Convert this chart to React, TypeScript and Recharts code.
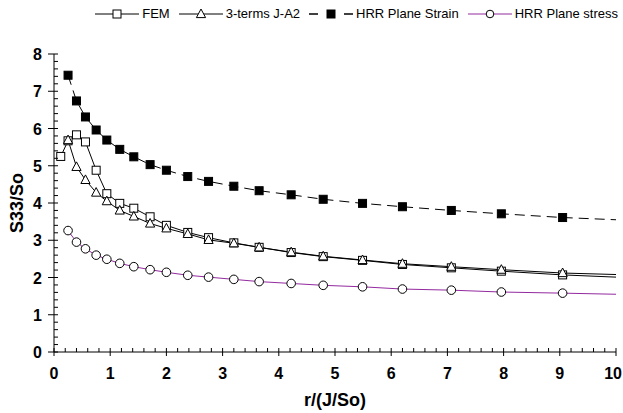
import React from 'react';
import { LineChart, Line, XAxis, YAxis, Label } from 'recharts';

// ---- Data ----
const X_VALUES = [0.25, 0.4, 0.56, 0.75, 0.94, 1.17, 1.42, 1.71, 2.0, 2.38, 2.75, 3.2, 3.65, 4.22, 4.79, 5.49, 6.2, 7.07, 7.96, 9.05];
const X_END = 10;
const FEM_FIRST_X = 0.12;
const FEM_FIRST_Y = 5.25;
const FEM_VALUES = [5.67, 5.83, 5.64, 4.88, 4.25, 3.99, 3.86, 3.63, 3.4, 3.21, 3.07, 2.93, 2.81, 2.67, 2.56, 2.46, 2.35, 2.26, 2.17, 2.07];
const FEM_END = 2.01;
const JA2_VALUES = [5.69, 4.97, 4.62, 4.28, 4.05, 3.8, 3.64, 3.45, 3.32, 3.17, 3.01, 2.92, 2.81, 2.68, 2.57, 2.47, 2.37, 2.29, 2.21, 2.12];
const JA2_END = 2.08;
const STRAIN_VALUES = [7.43, 6.74, 6.31, 5.96, 5.69, 5.44, 5.24, 5.03, 4.88, 4.71, 4.58, 4.45, 4.33, 4.22, 4.1, 3.99, 3.9, 3.8, 3.71, 3.61];
const STRAIN_END = 3.55;
const STRESS_VALUES = [3.26, 2.95, 2.77, 2.6, 2.49, 2.38, 2.29, 2.21, 2.14, 2.06, 2.01, 1.95, 1.89, 1.84, 1.79, 1.75, 1.69, 1.66, 1.61, 1.58];
const STRESS_END = 1.55;

const SERIES_NAMES = ['FEM', '3-terms J-A2', 'HRR Plane Strain', 'HRR Plane stress'];
const X_TICKS = Array.from({ length: 51 }, (_, i) => Math.round(i * 2) / 10);
const Y_TICKS = Array.from({ length: 41 }, (_, i) => Math.round(i * 2) / 10);
const X_TITLE = 'r/(J/So)';
const Y_TITLE = 'S33/So';

type Pt = { x: number; y: number; marker: boolean };
const build = (xs: number[], ys: number[], endY: number): Pt[] => [
  ...xs.map((x, i) => ({ x, y: ys[i], marker: true })),
  { x: X_END, y: endY, marker: false },
];

const femData = [{ x: FEM_FIRST_X, y: FEM_FIRST_Y, marker: true }, ...build(X_VALUES, FEM_VALUES, FEM_END)];
const ja2Data = build(X_VALUES, JA2_VALUES, JA2_END);
const strainData = build(X_VALUES, STRAIN_VALUES, STRAIN_END);
const stressData = build(X_VALUES, STRESS_VALUES, STRESS_END);

const PURPLE = '#932a9f';
const FONT = '"Liberation Sans", Arial, Helvetica, sans-serif';

const isMajor = (v: number) => Math.abs(v - Math.round(v)) < 1e-6;

const XTick = (props: any) => {
  const { x, y, payload } = props;
  const v = payload.value;
  const major = isMajor(v);
  const last = Math.abs(v - X_END) < 1e-6;
  return (
    <g>
      <line x1={x} x2={x} y1={y - 4} y2={major ? y + 4 : y} stroke="#000" strokeWidth={1} />
      {major && (
        <text
          x={last ? x + 6 : x}
          y={y + 27}
          textAnchor={last ? 'end' : 'middle'}
          fontFamily={FONT}
          fontWeight="bold"
          fontSize={16}
          fill="#000"
        >
          {Math.round(v)}
        </text>
      )}
    </g>
  );
};

const YTick = (props: any) => {
  const { x, y, payload } = props;
  const v = payload.value;
  const major = isMajor(v);
  return (
    <g>
      <line x1={major ? x - 6 : x} x2={x + 4} y1={y} y2={y} stroke="#000" strokeWidth={1} />
      {major && (
        <text x={x - 12} y={y + 6} textAnchor="end" fontFamily={FONT} fontWeight="bold" fontSize={16} fill="#000">
          {Math.round(v)}
        </text>
      )}
    </g>
  );
};

const SquareDot = (filled: boolean) => (props: any) => {
  const { cx, cy, payload, index } = props;
  if (!payload || !payload.marker) return <g key={`s${index}`} />;
  return (
    <rect key={`s${index}`} x={cx - 4} y={cy - 4} width={8} height={8} fill={filled ? '#000' : '#fff'} stroke="#000" strokeWidth={1} />
  );
};

const TriangleDot = (props: any) => {
  const { cx, cy, payload, index } = props;
  if (!payload || !payload.marker) return <g key={`t${index}`} />;
  return (
    <polygon
      key={`t${index}`}
      points={`${cx},${cy - 5} ${cx - 4.6},${cy + 3.6} ${cx + 4.6},${cy + 3.6}`}
      fill="#fff"
      stroke="#000"
      strokeWidth={1}
    />
  );
};

const CircleDot = (props: any) => {
  const { cx, cy, payload, index } = props;
  if (!payload || !payload.marker) return <g key={`c${index}`} />;
  return <circle key={`c${index}`} cx={cx} cy={cy} r={4.3} fill="#fff" stroke="#000" strokeWidth={1} />;
};

const LegendIcon = ({ kind }: { kind: number }) => {
  const w = 44;
  const c = 22;
  return (
    <svg width={w} height={12} style={{ display: 'block' }}>
      {kind === 2 ? (
        <>
          <line x1={0} x2={9} y1={6} y2={6} stroke="#000" strokeWidth={1.5} />
          <line x1={35} x2={44} y1={6} y2={6} stroke="#000" strokeWidth={1.5} />
        </>
      ) : (
        <line x1={0} x2={w} y1={6} y2={6} stroke={kind === 3 ? PURPLE : '#000'} strokeWidth={1} />
      )}
      {kind === 0 && <rect x={c - 4} y={2} width={8} height={8} fill="#fff" stroke="#000" />}
      {kind === 1 && <polygon points={`${c},1 ${c - 4.6},9.6 ${c + 4.6},9.6`} fill="#fff" stroke="#000" />}
      {kind === 2 && <rect x={c - 4} y={2} width={8} height={8} fill="#000" stroke="#000" />}
      {kind === 3 && <circle cx={c} cy={6} r={3.8} fill="#fff" stroke="#000" />}
    </svg>
  );
};

export default function App() {
  return (
    <div style={{ position: 'absolute', left: 0, top: 0, width: 623, height: 413, background: '#fff' }}>
      <div
        style={{
          position: 'absolute',
          top: 6,
          right: 5,
          display: 'flex',
          alignItems: 'center',
          fontFamily: FONT,
          fontSize: 13,
          color: '#000',
          whiteSpace: 'nowrap',
        }}
      >
        {SERIES_NAMES.map((name, i) => (
          <div key={name} style={{ display: 'flex', alignItems: 'center', marginLeft: i === 0 ? 0 : 9 }}>
            <LegendIcon kind={i} />
            <span style={{ marginLeft: 3, lineHeight: '16px' }}>{name}</span>
          </div>
        ))}
      </div>
      <LineChart width={623} height={413} margin={{ top: 54, right: 7, bottom: 16, left: 8 }}>
        <XAxis
          type="number"
          dataKey="x"
          domain={[0, 10]}
          ticks={X_TICKS}
          interval={0}
          allowDataOverflow
          tickLine={false}
          tickSize={0}
          tickMargin={0}
          height={45}
          axisLine={{ stroke: '#000', strokeWidth: 1 }}
          tick={<XTick />}
        >
          <Label
            content={(p: any) => {
              const vb = p.viewBox || { x: 54, width: 562, y: 352 };
              return (
                <text x={vb.x + vb.width / 2} y={vb.y + 54} textAnchor="middle" fontFamily={FONT} fontWeight="bold" fontSize={18} fill="#000">
                  {X_TITLE}
                </text>
              );
            }}
          />
        </XAxis>
        <YAxis
          type="number"
          domain={[0, 8]}
          ticks={Y_TICKS}
          interval={0}
          allowDataOverflow
          tickLine={false}
          tickSize={0}
          tickMargin={0}
          width={46}
          axisLine={{ stroke: '#000', strokeWidth: 1 }}
          tick={<YTick />}
        >
          <Label
            content={(p: any) => {
              const vb = p.viewBox || { x: 8, width: 46, y: 54, height: 298 };
              const cx = 17;
              const cy = vb.y + vb.height / 2;
              return (
                <text
                  x={cx}
                  y={cy}
                  transform={`rotate(-90 ${cx} ${cy})`}
                  textAnchor="middle"
                  dominantBaseline="central"
                  fontFamily={FONT}
                  fontWeight="bold"
                  fontSize={18}
                  fill="#000"
                >
                  {Y_TITLE}
                </text>
              );
            }}
          />
        </YAxis>
        <Line
          data={strainData}
          dataKey="y"
          name={SERIES_NAMES[2]}
          type="linear"
          stroke="#000"
          strokeWidth={1}
          strokeDasharray="10 6"
          dot={SquareDot(true)}
          isAnimationActive={false}
        />
        <Line
          data={stressData}
          dataKey="y"
          name={SERIES_NAMES[3]}
          type="linear"
          stroke={PURPLE}
          strokeWidth={1}
          dot={CircleDot}
          isAnimationActive={false}
        />
        <Line
          data={femData}
          dataKey="y"
          name={SERIES_NAMES[0]}
          type="linear"
          stroke="#000"
          strokeWidth={1}
          dot={SquareDot(false)}
          isAnimationActive={false}
        />
        <Line
          data={ja2Data}
          dataKey="y"
          name={SERIES_NAMES[1]}
          type="linear"
          stroke="#000"
          strokeWidth={1}
          dot={TriangleDot}
          isAnimationActive={false}
        />
      </LineChart>
    </div>
  );
}
